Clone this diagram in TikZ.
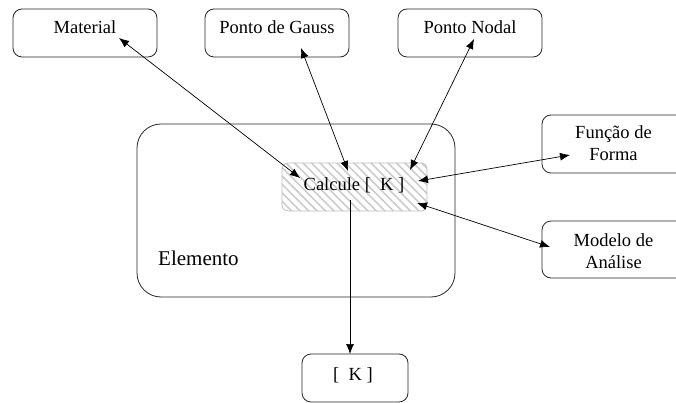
\documentclass[tikz,border=0pt]{standalone}
\usepackage{fontspec}
\setmainfont{Liberation Serif}
\usetikzlibrary{arrows.meta,patterns.meta}
\begin{document}
\begin{tikzpicture}[x=1pt,y=-1pt,
  box/.style={draw=black!85,line width=0.8pt,rounded corners=9pt},
  lbl/.style={font=\fontsize{18.5}{22}\selectfont,align=center,inner sep=0pt},
  conn/.style={line width=0.7pt,{Latex[length=10pt,width=8pt]}-{Latex[length=10pt,width=8pt]}},
  oneway/.style={line width=0.7pt,-{Latex[length=10pt,width=8pt]}}]
\useasboundingbox (0,0) rectangle (676,403);
% boxes
\draw[box] (13,9) rectangle (157,57);
\draw[box] (205,9) rectangle (349,57);
\draw[box] (398,9) rectangle (542,57);
\draw[box] (542,115) rectangle (690,173);
\draw[box] (542,221) rectangle (690,278);
\draw[box,rounded corners=24pt] (137,124) rectangle (455,297);
\draw[draw=black!25,line width=0.8pt,rounded corners=6pt,
  pattern={Lines[angle=-45,distance=6pt,line width=1.6pt]},pattern color=black!20]
  (282,163) rectangle (427,211);
\draw[box] (302,354) rectangle (408,402);
% labels
\node[lbl,anchor=base] (mat) at (85,34) {Material};
\node[lbl,anchor=base] (gau) at (277,34) {Ponto de Gauss};
\node[lbl,anchor=base] (nod) at (470,34) {Ponto Nodal};
\node[lbl] (fun) at (613.5,143) {Função de\\Forma};
\node[lbl] (mod) at (613.5,251) {Modelo de\\Análise};
\node[lbl,anchor=base] (calc) at (354,190) {Calcule [\ \ K ]};
\node[lbl,font=\fontsize{21}{25}\selectfont,anchor=base west] (elem) at (158,265) {Elemento};
\node[lbl,anchor=base] (k) at (353,380) {[\ \ K ]};
% connector end points
\coordinate (m1) at (119,38);  \coordinate (m2) at (300,178);
\coordinate (g1) at (301,48);  \coordinate (g2) at (348,171);
\coordinate (n1) at (474,39);  \coordinate (n2) at (410,170);
\coordinate (f1) at (418,181); \coordinate (f2) at (570,155);
\coordinate (o1) at (417,203); \coordinate (o2) at (550,247);
\coordinate (d1) at (350,200); \coordinate (d2) at (350,354);
\draw[conn] (m1) -- (m2);
\draw[conn] (g1) -- (g2);
\draw[conn] (n1) -- (n2);
\draw[conn] (f1) -- (f2);
\draw[conn] (o1) -- (o2);
\draw[oneway] (d1) -- (d2);
\end{tikzpicture}
\end{document}
